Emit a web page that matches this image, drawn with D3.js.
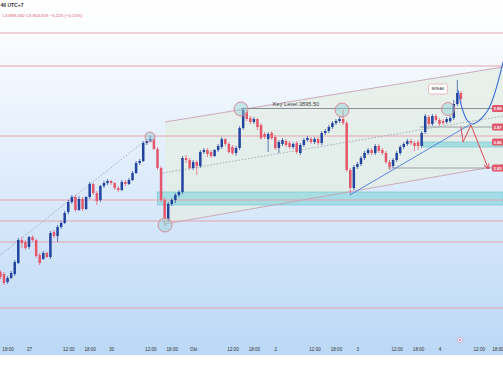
<!DOCTYPE html>
<html>
<head>
<meta charset="utf-8">
<script src="https://cdn.jsdelivr.net/npm/d3@7"></script>
<style>
  html, body { margin: 0; padding: 0; background: #fff; }
  svg { display: block; font-family: "Liberation Sans", Arial, sans-serif; }
</style>
</head>
<body>
<div id="chart"></div>
<script>
// hourly candles, first one is bar -8 (bar 0 = "27" 00:00)
const firstBar = -8;
const opens = [3732,3730,3722,3726,3730,3741,3764,3762,3757,3767,
  3764,3749,3745,3751,3747,3772,3768,3777,3781,3792,
  3802,3807,3794,3805,3795,3807,3820,3811,3804,3818,
  3821,3823,3821,3816,3814,3822,3820,3824,3831,3841,
  3843,3861,3863,3865,3855,3836,3804,3785,3800,3804,
  3809,3812,3846,3844,3836,3842,3838,3852,3854,3852,
  3848,3854,3857,3865,3860,3857,3851,3856,3876,3892,
  3886,3882,3885,3879,3870,3865,3871,3867,3856,3860,
  3863,3861,3857,3861,3851,3859,3864,3865,3862,3865,
  3861,3871,3873,3877,3881,3883,3885,3881,3834,3816,
  3837,3840,3846,3851,3854,3851,3858,3854,3851,3842,
  3838,3844,3851,3857,3860,3863,3861,3862,3858,3872,
  3887,3880,3888,3884,3883,3882,3883,3886,3900,3911];
const highs = [3734,3732,3728,3733,3744,3766,3767,3764,3768,3769,
  3765,3751,3753,3752,3773,3774,3779,3783,3793,3804,
  3809,3809,3808,3807,3808,3822,3821,3813,3819,3823,
  3825,3824,3822,3818,3824,3824,3826,3833,3843,3845,
  3863,3865,3868,3867,3857,3838,3806,3802,3806,3811,
  3814,3848,3849,3846,3844,3844,3854,3856,3856,3854,
  3855,3860,3867,3866,3862,3859,3858,3878,3896,3894,
  3888,3887,3886,3881,3872,3872,3873,3869,3864,3866,
  3865,3863,3862,3863,3861,3866,3868,3867,3867,3867,
  3873,3875,3879,3883,3885,3887,3894,3883,3836,3839,
  3842,3848,3853,3856,3856,3860,3860,3856,3853,3844,
  3846,3853,3859,3862,3865,3865,3863,3864,3873,3890,
  3889,3890,3890,3886,3885,3887,3888,3904,3924,3913];
const lows = [3725,3719,3720,3725,3728,3740,3756,3754,3755,3762,
  3746,3739,3744,3746,3745,3766,3762,3775,3780,3790,
  3800,3792,3793,3793,3794,3805,3809,3799,3802,3816,
  3819,3819,3814,3812,3813,3818,3819,3823,3830,3839,
  3842,3859,3862,3854,3834,3802,3778,3782,3798,3801,
  3807,3810,3841,3834,3834,3829,3836,3850,3847,3846,
  3847,3852,3855,3858,3850,3849,3848,3854,3874,3883,
  3880,3880,3874,3864,3865,3852,3864,3854,3851,3858,
  3857,3855,3855,3850,3849,3857,3862,3860,3860,3859,
  3859,3869,3871,3875,3879,3881,3879,3832,3810,3814,
  3835,3838,3844,3849,3849,3849,3851,3849,3840,3834,
  3836,3842,3849,3855,3858,3859,3853,3854,3856,3870,
  3878,3878,3882,3878,3879,3880,3881,3884,3898,3899];
const closes = [3727,3721,3726,3731,3742,3764,3761,3756,3767,3764,
  3748,3741,3751,3747,3771,3768,3777,3781,3791,3802,
  3807,3794,3805,3795,3807,3820,3811,3803,3818,3821,
  3823,3821,3816,3814,3822,3820,3824,3831,3841,3843,
  3861,3863,3865,3855,3836,3804,3786,3800,3804,3809,
  3812,3846,3844,3836,3842,3838,3852,3854,3850,3848,
  3854,3858,3865,3860,3852,3851,3856,3876,3894,3885,
  3882,3885,3877,3866,3867,3870,3866,3856,3862,3864,
  3859,3857,3860,3852,3859,3864,3866,3862,3865,3861,
  3871,3873,3877,3881,3883,3885,3881,3834,3816,3837,
  3840,3846,3851,3854,3851,3858,3853,3851,3842,3837,
  3844,3851,3857,3860,3863,3861,3858,3858,3871,3888,
  3880,3888,3884,3880,3881,3885,3886,3900,3911,3905];

const tickBars = [-6,0,11,17,23,34,40,46,57,63,69,80,86,92,103,109,115,126,132];
const tickLabels = ["18:00","27","12:00","18:00","30","12:00","18:00","Okt","12:00","18:00",
  "2","12:00","18:00","3","12:00","18:00","4","12:00","18:00"];

// drawn levels and annotations (bar, price)
const redLevels = [3971, 3938, 3868, 3804, 3783, 3762, 3696];
const zoneStart = [36, 110.5];
const zoneLow = [3799, 3857];
const zoneHigh = [3812, 3862];
const channelTop = [[38.1, 3882], [132.8, 3937]];
const channelBottom = [[38.1, 3780], [132.8, 3839]];
const dottedA = [[-8.1, 3749], [33.9, 3867]];
const dottedB = [[37.5, 3831], [132.8, 3888]];
const keyLevel = 3895.5;
const keyStart = 59.4;
const grayLevels = [3877, 3836];
const grayStart = [109.5, 100.6];
const trendLine = [[89.9, 3809], [123.8, 3880]];
const curvePts = [[120.2,3914],[121.3,3896],[122.7,3884],[124.1,3880],[126.3,3884],[128.6,3894],[130.5,3911],[132.8,3942]];
const zigzag = [[121,3877],[121.6,3862],[123.8,3879],[128.6,3836]];
const circleBars = [33.9, 59.4, 87.7, 38.1, 117.4];
const circlePrices = [3867, 3895, 3894, 3779, 3895];
const circleR = [5, 7, 7, 7, 6.5];
const tagPrices = [3895.5, 3877, 3862, 3836];
const tagTexts = ["3.89", "3.87", "3.86", "3.83"];

const W = 503, H = 378, plotBottom = 340;

const x = d3.scaleLinear().domain([0, 46]).range([29, 193.2]);
const y = d3.scaleLinear().domain([3700, 4000]).range([304, 4]);

const svg = d3.select("#chart").append("svg")
  .attr("width", W).attr("height", H);

const defs = svg.append("defs");
const grad = defs.append("linearGradient").attr("id", "bg")
  .attr("x1", 0).attr("y1", 0).attr("x2", 0).attr("y2", 1);
grad.append("stop").attr("offset", "0").attr("stop-color", "#ffffff");
grad.append("stop").attr("offset", "0.07").attr("stop-color", "#fcfdff");
grad.append("stop").attr("offset", "1").attr("stop-color", "#bbd8f6");
defs.append("clipPath").attr("id", "plot").append("rect")
  .attr("x", 0).attr("y", 0).attr("width", W).attr("height", plotBottom);
defs.append("marker").attr("id", "arrow").attr("viewBox", "0 0 10 10")
  .attr("refX", 8).attr("refY", 5).attr("markerWidth", 6).attr("markerHeight", 6)
  .attr("orient", "auto")
  .append("path").attr("d", "M0,0 L10,5 L0,10").attr("fill", "none")
  .attr("stroke", "#e04a5c").attr("stroke-width", 1.6);

svg.append("rect").attr("width", W).attr("height", H).attr("fill", "#fff");
svg.append("rect").attr("width", W).attr("height", 355).attr("fill", "url(#bg)");

const g = svg.append("g").attr("clip-path", "url(#plot)");
const pt = d => [x(d[0]), y(d[1])];

// channel fill
g.append("path")
  .attr("d", d3.line()([pt(channelTop[0]), pt(channelTop[1]), pt(channelBottom[1]), pt(channelBottom[0])]) + "Z")
  .attr("fill", "#e4eee4").attr("opacity", 0.75);

// zones
zoneStart.forEach((s, i) => {
  g.append("rect")
    .attr("x", x(s)).attr("width", W - x(s))
    .attr("y", y(zoneHigh[i])).attr("height", y(zoneLow[i]) - y(zoneHigh[i]))
    .attr("fill", "#7fd3da").attr("fill-opacity", 0.6)
    .attr("stroke", "#6cc4cc").attr("stroke-width", 0.6);
});

// red levels
g.selectAll(".lvl").data(redLevels).enter().append("line")
  .attr("x1", 0).attr("x2", W)
  .attr("y1", d => y(d)).attr("y2", d => y(d))
  .attr("stroke", "#e6a4ac").attr("stroke-width", 1.1);

// channel lines
[channelTop, channelBottom].forEach(l => {
  g.append("path").attr("d", d3.line()(l.map(pt)))
    .attr("stroke", "#c9a2b4").attr("stroke-width", 0.9).attr("fill", "none");
});

// dotted lines
[dottedA, dottedB].forEach(l => {
  g.append("path").attr("d", d3.line()(l.map(pt)))
    .attr("stroke", "#8e98a6").attr("stroke-width", 0.7)
    .attr("stroke-dasharray", "1.6,1.6").attr("fill", "none");
});

// key level and gray lines
g.append("line").attr("x1", x(keyStart)).attr("x2", W)
  .attr("y1", y(keyLevel)).attr("y2", y(keyLevel))
  .attr("stroke", "#7d8288").attr("stroke-width", 0.9);
grayLevels.forEach((p, i) => {
  g.append("line").attr("x1", x(grayStart[i])).attr("x2", W)
    .attr("y1", y(p)).attr("y2", y(p))
    .attr("stroke", "#8a8f96").attr("stroke-width", 0.8);
});

// candles
const bars = closes.map((c, i) => ({ bar: firstBar + i, o: opens[i], h: highs[i], l: lows[i], c: c }));
const candle = g.selectAll(".candle").data(bars).enter().append("g");
candle.append("line")
  .attr("x1", d => x(d.bar)).attr("x2", d => x(d.bar))
  .attr("y1", d => y(d.h)).attr("y2", d => y(d.l))
  .attr("stroke", d => d.c >= d.o ? "#23449e" : "#e5566b").attr("stroke-width", 0.7);
candle.append("rect")
  .attr("x", d => x(d.bar) - 1.25).attr("width", 2.5)
  .attr("y", d => y(Math.max(d.o, d.c)))
  .attr("height", d => Math.max(0.8, Math.abs(y(d.o) - y(d.c))))
  .attr("fill", d => d.c >= d.o ? "#23449e" : "#e5566b");

// circles
circleBars.forEach((b, i) => {
  g.append("circle").attr("cx", x(b)).attr("cy", y(circlePrices[i])).attr("r", circleR[i])
    .attr("fill", "#8fd0d4").attr("fill-opacity", 0.45)
    .attr("stroke", "#df7f8c").attr("stroke-width", 0.9);
});

// blue trend line and curve
g.append("path").attr("d", d3.line()(trendLine.map(pt)))
  .attr("stroke", "#4a78d8").attr("stroke-width", 0.9).attr("fill", "none");
g.append("path").attr("d", d3.line().curve(d3.curveCatmullRom)(curvePts.map(pt)))
  .attr("stroke", "#3f72dc").attr("stroke-width", 1.1).attr("fill", "none");

// red zigzag
g.append("path").attr("d", d3.line()(zigzag.map(pt)))
  .attr("stroke", "#e04a5c").attr("stroke-width", 1).attr("fill", "none")
  .attr("marker-end", "url(#arrow)");

// BREAK label
const bx = x(114.6), by = y(3915);
g.append("rect").attr("x", bx - 9.5).attr("y", by - 5).attr("width", 19).attr("height", 10).attr("rx", 2)
  .attr("fill", "#fff").attr("stroke", "#e6a4ac").attr("stroke-width", 0.7);
g.append("text").attr("x", bx).attr("y", by + 1.4).attr("text-anchor", "middle")
  .attr("font-size", 3.8).attr("fill", "#333").text("BREAK");

// key level text
g.append("text").attr("x", x(74.8)).attr("y", y(keyLevel) - 2.5).attr("text-anchor", "middle")
  .attr("font-size", 5.6).attr("fill", "#3d4248").text("Key Level 3895.50");

// price tags at right
tagPrices.forEach((p, i) => {
  g.append("rect").attr("x", 492).attr("y", y(p) - 3.6).attr("width", 16).attr("height", 7.2).attr("rx", 1.5)
    .attr("fill", "#e2566a");
  g.append("text").attr("x", 493.5).attr("y", y(p) + 1.6)
    .attr("font-size", 4.2).attr("font-weight", "bold").attr("fill", "#fff").text(tagTexts[i]);
});

// header text
svg.append("text").attr("x", 0.5).attr("y", 7)
  .attr("font-size", 5).attr("font-weight", "bold").attr("fill", "#333").text("46 UTC+7");
svg.append("text").attr("x", 2.5).attr("y", 17.2)
  .attr("font-size", 4.4).attr("fill", "#e0576b").text("L3.899,030  C3.904,505  −5,225 (−0,13%)");

// time axis
const axis = svg.append("g").attr("transform", "translate(0,348)")
  .call(d3.axisBottom(x).tickValues(tickBars).tickFormat((d, i) => tickLabels[i]).tickSize(0).tickPadding(0));
axis.select(".domain").remove();
axis.selectAll("text").attr("font-size", 4.6).attr("fill", "#333").attr("font-family", "Liberation Sans, Arial, sans-serif");
axis.selectAll(".tick").filter((d, i) => i === tickBars.length - 1).select("text").attr("text-anchor", "end").attr("x", 3);

// small icon near axis
svg.append("circle").attr("cx", x(120.7)).attr("cy", 340).attr("r", 2.6)
  .attr("fill", "#fff").attr("stroke", "#c77fb5").attr("stroke-width", 0.6);
svg.append("circle").attr("cx", x(120.7)).attr("cy", 340).attr("r", 0.9).attr("fill", "#b0589c");
</script>
</body>
</html>
